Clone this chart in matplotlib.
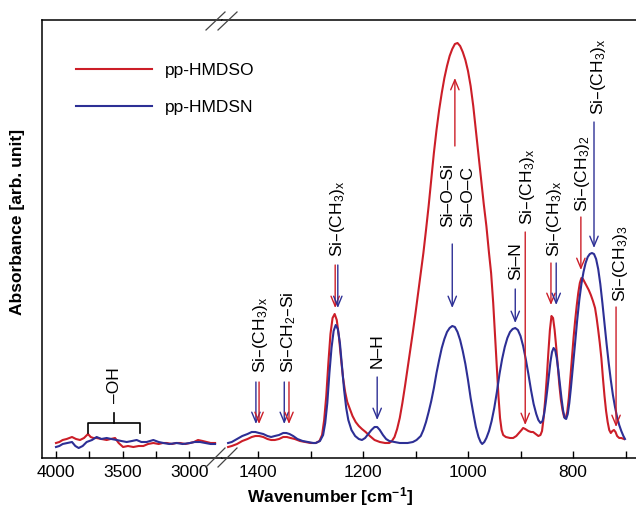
import numpy as np
import matplotlib
matplotlib.use('Agg')
import matplotlib.pyplot as plt
from matplotlib.lines import Line2D

plt.rcParams['font.family'] = ['Liberation Sans', 'DejaVu Sans']
plt.rcParams['mathtext.default'] = 'regular'
plt.rcParams['font.size'] = 12.5

RED = '#cc1e28'
BLUE = '#2d2f95'

# ---- pp-HMDSO (red), high wavenumber part (4000-2800)
red_lo_wn = [4000, 3975, 3950, 3920, 3880, 3850, 3820, 3790, 3760, 3740, 3720, 3695, 3660,
             3620, 3590, 3557, 3530, 3497, 3460, 3420, 3380, 3345, 3310, 3270, 3230, 3200,
             3170, 3130, 3100, 3070, 3030, 2995, 2965, 2935, 2900, 2870, 2840, 2807]
red_lo_abs = [15, 16, 18, 19, 21, 19, 18, 20, 24, 21, 20, 20, 19,
              18, 19, 20, 15, 11, 12, 11, 12, 12, 14, 15, 14, 15,
              15, 14, 15, 15, 14, 15, 16, 18, 17, 16, 15, 15]

# ---- pp-HMDSN (blue), high wavenumber part
blue_lo_wn = [4000, 3975, 3950, 3915, 3880, 3855, 3830, 3800, 3770, 3730, 3695, 3660, 3620,
              3585, 3545, 3510, 3470, 3430, 3395, 3360, 3320, 3295, 3270, 3230, 3195, 3150,
              3095, 3050, 2995, 2960, 2920, 2880, 2840, 2807]
blue_lo_abs = [11, 12, 14, 15, 16, 12, 10, 12, 16, 18, 21, 19, 20,
               19, 18, 17, 16, 17, 18, 16, 16, 17, 18, 16, 15, 14,
               15, 14, 15, 16, 16, 15, 14, 14]

# ---- pp-HMDSO, fingerprint part (1460-700)
red_hi_wn = [1457, 1450, 1440, 1430, 1420, 1412, 1405, 1398, 1390, 1382, 1375, 1368, 1360,
             1352, 1345, 1338, 1330, 1320, 1310, 1300, 1290, 1283, 1278, 1274, 1270, 1266,
             1262, 1258, 1254, 1250, 1246, 1242, 1238, 1234, 1230, 1225, 1220, 1214, 1208,
             1202, 1195, 1187, 1178, 1168, 1158, 1150, 1145, 1140, 1135, 1130, 1125, 1120,
             1115, 1110, 1105, 1100, 1095, 1090, 1085, 1080, 1075, 1070, 1065, 1060, 1055,
             1050, 1045, 1040, 1035, 1030, 1025, 1020, 1015, 1010, 1005, 1000, 995, 990,
             985, 980, 975, 970, 965, 960, 956, 952, 948, 945, 942, 939, 936, 933, 928,
             920, 914, 908, 903, 898, 895, 891, 885, 880, 876, 871, 866, 862, 859, 856,
             853, 850, 847, 844, 841, 838, 835, 832, 829, 826, 823, 820, 817, 814, 811,
             808, 805, 802, 799, 796, 793, 790, 787, 784, 781, 778, 774, 770, 766, 762,
             758, 755, 752, 749, 746, 743, 740, 737, 734, 731, 728, 725, 722, 719, 716,
             712, 708, 703]
red_hi_abs = [11, 12, 14, 17, 19, 21, 22, 22, 21, 19, 18, 18, 19,
              21, 21, 20, 19, 17, 16, 15, 15, 17, 23, 38, 62, 95,
              124, 140, 144, 138, 122, 100, 80, 66, 56, 49, 42, 36, 32,
              29, 26, 22, 18, 16, 15, 15, 17, 21, 29, 40, 55, 72,
              90, 108, 126, 145, 165, 185, 205, 228, 252, 278, 305, 328, 348,
              365, 380, 392, 402, 409, 414, 415, 412, 406, 398, 387, 372, 352,
              328, 303, 278, 254, 232, 205, 185, 155, 118, 90, 62, 40, 28, 23, 21,
              20, 20, 22, 25, 28, 30, 29, 27, 26, 26, 24, 22, 23, 27, 40,
              58, 80, 105, 128, 142, 140, 128, 111, 92, 73, 58, 48, 41, 40, 46,
              60, 80, 100, 120, 137, 152, 165, 175, 180, 179, 176, 172, 168, 163, 157,
              150, 140, 128, 115, 100, 80, 62, 47, 36, 28, 25, 27, 28, 26, 22,
              20, 20, 19]

# ---- pp-HMDSN, fingerprint part
blue_hi_wn = [1457, 1450, 1440, 1430, 1420, 1412, 1405, 1398, 1390, 1382, 1375, 1368, 1360,
              1352, 1346, 1340, 1333, 1325, 1315, 1305, 1295, 1290, 1282, 1276, 1272, 1268,
              1264, 1260, 1256, 1252, 1248, 1244, 1240, 1236, 1232, 1228, 1222, 1215, 1208,
              1202, 1196, 1190, 1184, 1178, 1173, 1168, 1162, 1156, 1150, 1140, 1130, 1115,
              1105, 1098, 1090, 1085, 1080, 1075, 1070, 1065, 1060, 1055, 1050, 1045, 1040,
              1035, 1030, 1025, 1020, 1015, 1010, 1005, 1000, 995, 990, 985, 980, 976, 973,
              969, 965, 960, 955, 950, 945, 940, 935, 930, 925, 920, 915, 910, 905, 900,
              895, 890, 885, 880, 875, 870, 866, 862, 858, 855, 852, 849, 846, 843, 840,
              837, 834, 831, 828, 825, 822, 819, 816, 813, 810, 807, 804, 800, 796, 792,
              788, 784, 780, 776, 772, 768, 764, 760, 756, 752, 748, 744, 740, 736, 732,
              728, 724, 720, 716, 712, 708, 704, 701]
blue_hi_abs = [15, 16, 19, 22, 24, 26, 26, 25, 24, 22, 21, 22, 23,
               25, 25, 24, 22, 19, 17, 16, 15, 15, 17, 23, 35, 55,
               85, 110, 127, 133, 129, 115, 92, 68, 50, 38, 28, 22, 19,
               18, 20, 24, 28, 31, 31, 28, 23, 19, 17, 16, 15, 15,
               16, 18, 22, 28, 36, 46, 57, 70, 85, 98, 110, 119, 126,
               130, 132, 131, 126, 118, 107, 94, 78, 60, 45, 31, 21, 16, 14,
               16, 20, 27, 37, 50, 66, 84, 99, 111, 120, 126, 129, 130, 128, 122,
               112, 99, 84, 68, 54, 44, 38, 35, 37, 44, 55, 68, 82, 96, 106,
               110, 108, 100, 88, 74, 60, 48, 40, 39, 44, 55, 70, 92, 115, 138,
               158, 174, 186, 195, 201, 204, 205, 204, 199, 189, 174, 155, 134, 114, 95,
               78, 63, 51, 41, 33, 27, 22, 19]

# band assignments: (x, arrow start, arrow tip, colour)
arrows = [(1404, 76, 34, BLUE), (1398, 76, 34, RED),
          (1350, 76, 34, BLUE), (1341, 76, 34, RED),
          (1253, 193, 150, RED), (1248, 193, 150, BLUE),
          (1173, 81, 38, BLUE),
          (1030, 214, 150, BLUE), (1025, 312, 380, RED),
          (910, 169, 135, BLUE),
          (891, 226, 33, RED),
          (842, 195, 153, RED), (832, 195, 153, BLUE),
          (785, 241, 188, RED),
          (760, 336, 210, BLUE),
          (718, 151, 31, RED)]
labels = [(1396, 85, 'Si–(CH$_3$)$_x$'),
          (1341, 85, 'Si–CH$_2$–Si'),
          (1248, 201, 'Si–(CH$_3$)$_x$'),
          (1173, 90, 'N–H'),
          (1038, 231, 'Si–O–Si'),
          (1000, 231, 'Si–O–C'),
          (910, 178, 'Si–N'),
          (886, 233, 'Si–(CH$_3$)$_x$'),
          (836, 201, 'Si–(CH$_3$)$_x$'),
          (781, 246, 'Si–(CH$_3$)$_2$'),
          (752, 343, 'Si–(CH$_3$)$_x$'),
          (710, 156, 'Si–(CH$_3$)$_3$')]

fig = plt.figure(figsize=(6.36, 5.19), dpi=100)
ax1 = fig.add_axes([42/636, 61/519, 180/636, 438/519])
ax2 = fig.add_axes([222/636, 61/519, 414/636, 438/519])

l1, = ax1.plot(red_lo_wn, red_lo_abs, color=RED, lw=1.5, label='pp-HMDSO')
l2, = ax1.plot(blue_lo_wn, blue_lo_abs, color=BLUE, lw=1.5, label='pp-HMDSN')
ax2.plot(red_hi_wn, red_hi_abs, color=RED, lw=1.5)
ax2.plot(blue_hi_wn, blue_hi_abs, color=BLUE, lw=1.5)

ax1.set_xlim(4105, 2755)
ax2.set_xlim(1468.6, 680)
for ax in (ax1, ax2):
    ax.set_ylim(0, 438)
    ax.set_yticks([])
    ax.tick_params(axis='x', direction='in', length=5, width=1, pad=5, labelsize=12.5)
    for s in ax.spines.values():
        s.set_linewidth(1.1)
ax1.spines['right'].set_visible(False)
ax2.spines['left'].set_visible(False)
ax2.spines['right'].set_visible(False)

ax1.set_xticks([4000, 3750, 3500, 3250, 3000])
ax1.set_xticklabels(['4000', '', '3500', '', '3000'])
ax2.set_xticks([1400, 1300, 1200, 1100, 1000, 900, 800, 700])
ax2.set_xticklabels(['1400', '', '1200', '', '1000', '', '800', ''])

for x, y0, y1, c in arrows:
    ax2.annotate('', xy=(x, y1), xytext=(x, y0),
                 arrowprops=dict(arrowstyle='->, head_length=0.6, head_width=0.25',
                                 color=c, lw=1, shrinkA=0, shrinkB=0, mutation_scale=12))
for x, y, t in labels:
    ax2.text(x, y, t, rotation=90, ha='center', va='bottom', fontsize=12.5)

# -OH bracket
ax1.plot([3760, 3760, 3370, 3370], [25, 35, 35, 25], color='k', lw=1.2)
ax1.plot([3562, 3562], [35, 45], color='k', lw=1.2)
ax1.text(3562, 55, '–OH', rotation=90, ha='center', va='bottom', fontsize=12.5)

# axis break marks
for x0 in (206, 218):
    fig.add_artist(Line2D([x0/636, (x0+19)/636], [1-30/519, 1-12/519], color='#444444', lw=0.9))
    fig.add_artist(Line2D([x0/636, (x0+19)/636], [1-467/519, 1-448/519], color='#444444', lw=0.9))

fig.legend(handles=[l1, l2], loc='upper left', bbox_to_anchor=(76/636, 1-63/519),
           frameon=False, borderpad=0, borderaxespad=0,
           handlelength=4.4, handletextpad=0.7, labelspacing=1.25, fontsize=12.5)

fig.text(330/636, 1-497/519, 'Wavenumber [cm$^{-1}$]', ha='center', va='center',
         fontsize=12.5, fontweight='bold')
fig.text(18/636, 1-222/519, 'Absorbance [arb. unit]', ha='center', va='center',
         rotation=90, fontsize=12.5, fontweight='bold')

fig.savefig('out.png', dpi=100)
